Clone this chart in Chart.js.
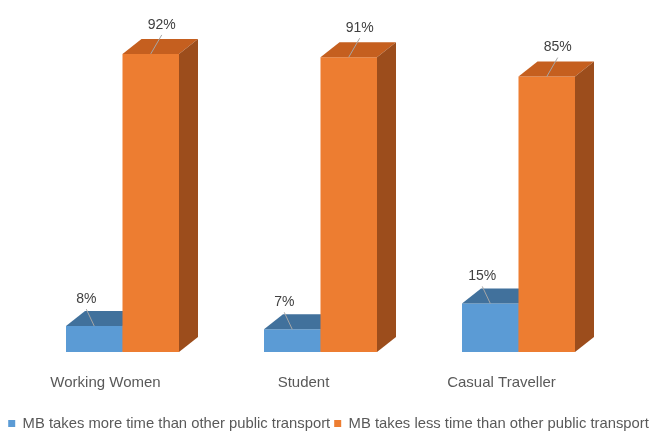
<!DOCTYPE html>
<html>
<head>
<meta charset="utf-8">
<script src="https://cdn.jsdelivr.net/npm/chart.js@4.4.1/dist/chart.umd.min.js"></script>
<style>
  html, body { margin: 0; padding: 0; background: #ffffff; }
  canvas { display: block; }
</style>
</head>
<body>
<canvas id="chart" width="657" height="435"></canvas>
<script>
// Survey answers per traveller group (percent)
const categories = ['Working Women', 'Student', 'Casual Traveller'];
const seriesNames = [
  'MB takes more time than other public transport',
  'MB takes less time than other public transport'
];
const moreTime = [8, 7, 15];
const lessTime = [92, 91, 85];

const FONT = "'Liberation Sans', Arial, sans-serif";

// Extruded look: each bar gets a top and a right-hand face
const DEPTH_X = 19;
const DEPTH_Y = 15;
const faceColors = [
  { front: '#5B9BD5', top: '#41719C', side: '#3A6591' },
  { front: '#ED7D31', top: '#C55F1F', side: '#9C4D1C' }
];
// where each series' value label sits relative to the bar's front top edge
const labelPlacement = [
  { dx: -8, dy: -27 },
  { dx: 11, dy: -29 }
];

const bar3d = {
  id: 'bar3d',
  beforeDatasetsDraw(chart) {
    const ctx = chart.ctx;
    const metas = chart.data.datasets.map((d, i) => chart.getDatasetMeta(i));
    const count = chart.data.labels.length;
    ctx.save();
    for (let i = 0; i < count; i++) {
      metas.forEach((meta, di) => {
        const bar = meta.data[i];
        const { x, y, base, width } = bar.getProps(['x', 'y', 'base', 'width'], true);
        const l = x - width / 2;
        const r = x + width / 2;
        const c = faceColors[di];
        bar.draw(ctx);
        // top face
        ctx.beginPath();
        ctx.moveTo(l, y);
        ctx.lineTo(r, y);
        ctx.lineTo(r + DEPTH_X, y - DEPTH_Y);
        ctx.lineTo(l + DEPTH_X, y - DEPTH_Y);
        ctx.closePath();
        ctx.fillStyle = c.top;
        ctx.fill();
        // side face
        ctx.beginPath();
        ctx.moveTo(r, y);
        ctx.lineTo(r + DEPTH_X, y - DEPTH_Y);
        ctx.lineTo(r + DEPTH_X, base - DEPTH_Y);
        ctx.lineTo(r, base);
        ctx.closePath();
        ctx.fillStyle = c.side;
        ctx.fill();
      });
    }
    ctx.restore();
    return false;
  },
  afterDraw(chart) {
    const ctx = chart.ctx;
    ctx.save();
    chart.data.datasets.forEach((ds, di) => {
      const meta = chart.getDatasetMeta(di);
      const pos = labelPlacement[di];
      meta.data.forEach((bar, i) => {
        const { x, y } = bar.getProps(['x', 'y'], true);
        const lx = x + pos.dx;
        const ly = y + pos.dy;
        ctx.beginPath();
        ctx.moveTo(x, y);
        ctx.lineTo(lx, ly + 10);
        ctx.strokeStyle = '#A6A6A6';
        ctx.lineWidth = 1;
        ctx.stroke();
        ctx.fillStyle = '#404040';
        ctx.font = '14px ' + FONT;
        ctx.textAlign = 'center';
        ctx.textBaseline = 'middle';
        ctx.fillText(ds.data[i] + '%', lx, ly);
      });
    });
    ctx.restore();
  }
};

new Chart(document.getElementById('chart'), {
  type: 'bar',
  data: {
    labels: categories,
    datasets: [
      { label: seriesNames[0], data: moreTime, backgroundColor: faceColors[0].front, borderWidth: 0 },
      { label: seriesNames[1], data: lessTime, backgroundColor: faceColors[1].front, borderWidth: 0 }
    ]
  },
  options: {
    responsive: false,
    animation: false,
    layout: { padding: { top: 28, bottom: -6, left: 0, right: 0 } },
    datasets: { bar: { categoryPercentage: 0.5707, barPercentage: 1 } },
    scales: {
      x: {
        grid: { display: false, drawTicks: false },
        border: { display: false },
        ticks: { padding: 22, labelOffset: -17, color: '#595959', font: { family: FONT, size: 15 } },
        afterFit(scale) { scale.height = 60.2; }
      },
      y: {
        min: 0,
        max: 100,
        grid: { display: false, drawTicks: false },
        border: { display: false },
        ticks: { display: false },
        afterFit(scale) { scale.width = 23.5; }
      },
      yRight: {
        type: 'linear',
        position: 'right',
        grid: { display: false, drawTicks: false },
        border: { display: false },
        ticks: { display: false },
        afterFit(scale) { scale.width = 39.5; }
      }
    },
    plugins: {
      legend: {
        position: 'bottom',
        labels: {
          boxWidth: 7,
          boxHeight: 7,
          padding: 4,
          color: '#595959',
          font: { family: FONT, size: 14.8 }
        }
      },
      tooltip: { enabled: false }
    }
  },
  plugins: [bar3d]
});
</script>
</body>
</html>
